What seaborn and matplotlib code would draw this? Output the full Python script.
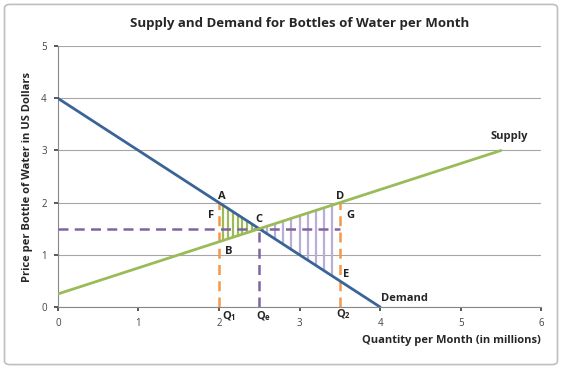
import numpy as np
import pandas as pd
import matplotlib.pyplot as plt
import seaborn as sns
from matplotlib.patches import FancyBboxPatch

# curves
demand_q = [0, 4]
demand_p = [4, 0]
supply_q = [0, 5.5]
supply_p = [0.25, 3]

q1, qe, q2 = 2, 2.5, 3.5
pe = 1.5

# hatch positions (shortage / surplus areas)
green_hatch_q = [2.05, 2.11, 2.17, 2.23, 2.29, 2.35, 2.41]
lav_hatch_q = [2.6, 2.7, 2.8, 2.9, 3.0, 3.1, 3.2, 3.3, 3.4]

point_labels = {
    'A': (2.04, 2.12), 'F': (1.9, 1.75), 'B': (2.12, 1.07), 'C': (2.5, 1.68),
    'D': (3.5, 2.12), 'G': (3.63, 1.75), 'E': (3.58, 0.63),
}

sns.set_theme(style="white")
plt.rcParams['font.family'] = ['Open Sans', 'DejaVu Sans']
plt.rcParams['mathtext.default'] = 'regular'

fig = plt.figure(figsize=(5.62, 3.69), dpi=100)
fig.patches.append(FancyBboxPatch((0.008, 0.012), 0.984, 0.976, boxstyle="round,pad=0,rounding_size=0.01",
                                  transform=fig.transFigure, fill=False, edgecolor='#bfbfbf', linewidth=1.2))
ax = fig.add_axes([0.103, 0.168, 0.86, 0.707])

dem_col = '#3a6497'
sup_col = '#9bbb59'
org_col = '#f79646'
pur_col = '#8064a2'
lav_col = '#b9aed6'

# hatching
for q in green_hatch_q:
    top = np.interp(q, demand_q, demand_p)
    bot = np.interp(q, supply_q, supply_p)
    ax.plot([q, q], [bot, top], color=sup_col, lw=1.6, zorder=2)
for q in lav_hatch_q:
    top = np.interp(q, supply_q, supply_p)
    bot = np.interp(q, demand_q, demand_p)
    ax.plot([q, q], [bot, top], color=lav_col, lw=1.6, zorder=2)

# dashed guides
ax.plot([0, q2], [pe, pe], color=pur_col, lw=1.8, ls=(0, (4, 2.5)), zorder=3)
ax.plot([qe, qe], [0, pe], color=pur_col, lw=1.8, ls=(0, (4, 2.5)), zorder=3)
for q in [q1, q2]:
    ax.plot([q, q], [0, 2], color=org_col, lw=1.8, ls=(0, (4, 2.5)), zorder=3)

sns.lineplot(x=demand_q, y=demand_p, ax=ax, color=dem_col, lw=2, zorder=4)
sns.lineplot(x=supply_q, y=supply_p, ax=ax, color=sup_col, lw=2, zorder=4)

for k, (x, y) in point_labels.items():
    ax.text(x, y, k, fontsize=8, fontweight='bold', color='#222222', ha='center', va='center', zorder=5)

ax.text(5.6, 3.27, 'Supply', fontsize=8, fontweight='bold', ha='center', va='center')
ax.text(4.3, 0.17, 'Demand', fontsize=8, fontweight='bold', ha='center', va='center')
ax.text(2.13, -0.17, 'Q$_1$', fontsize=8, fontweight='bold', ha='center', va='center')
ax.text(2.55, -0.17, 'Q$_e$', fontsize=8, fontweight='bold', ha='center', va='center')
ax.text(3.55, -0.14, 'Q$_2$', fontsize=8, fontweight='bold', ha='center', va='center')

ax.set_xlim(0, 6)
ax.set_ylim(0, 5)
ax.set_xticks(range(7))
ax.set_yticks(range(6))
ax.tick_params(labelsize=7, colors='#444444', length=3, direction='out', bottom=True, left=True, pad=5)
ax.yaxis.grid(True, color='#a6a6a6', lw=0.8)
ax.set_axisbelow(True)
for s in ['top', 'right']:
    ax.spines[s].set_visible(False)
for s in ['left', 'bottom']:
    ax.spines[s].set_color('#888888')
    ax.spines[s].set_linewidth(0.8)

ax.set_title('Supply and Demand for Bottles of Water per Month', fontsize=9.5, fontweight='bold', pad=14)
ax.set_xlabel('Quantity per Month (in millions)', fontsize=8, fontweight='bold', loc='right', labelpad=4)
ax.set_ylabel('Price per Bottle of Water in US Dollars', fontsize=8, fontweight='bold', labelpad=6)

fig.savefig('out.png', dpi=100)
